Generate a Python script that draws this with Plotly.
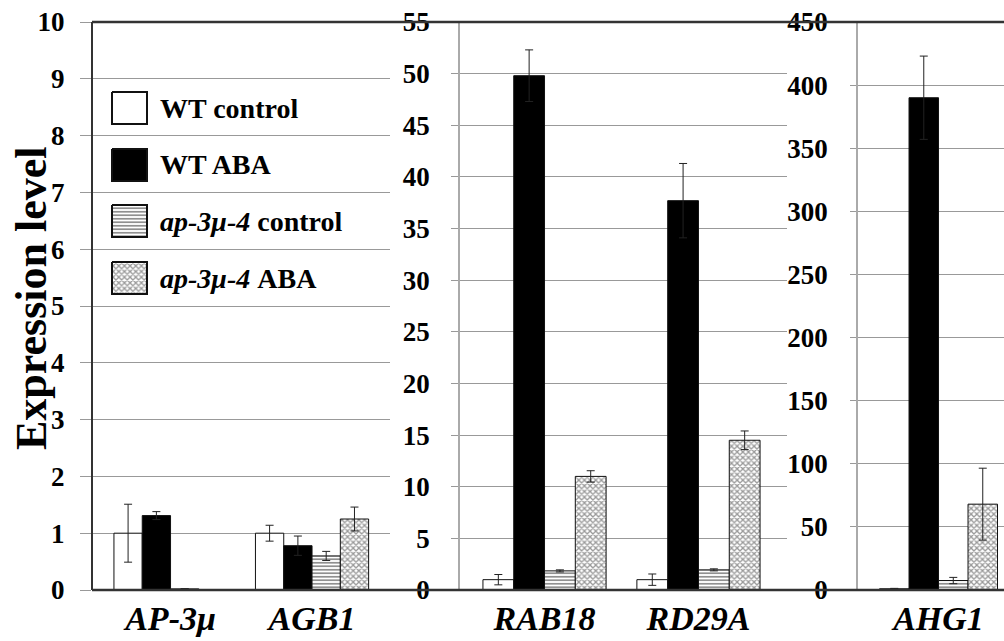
import plotly.graph_objects as go

# ---------------- data ----------------
genes_left = ["AP-3μ", "AGB1"]
genes_mid = ["RAB18", "RD29A"]
genes_right = ["AHG1"]

series_names = ["WT control", "WT ABA", "ap-3μ-4 control", "ap-3μ-4 ABA"]
legend_labels = ["<b>WT control</b>", "<b>WT ABA</b>",
                 "<b><i>ap-3μ-4</i> control</b>", "<b><i>ap-3μ-4</i> ABA</b>"]

wt_control = [1.00, 1.00, 1.00, 1.00, 1.0]
wt_control_err = [0.51, 0.14, 0.50, 0.55, 0.3]
wt_aba = [1.31, 0.78, 49.8, 37.7, 390]
wt_aba_err = [0.07, 0.17, 2.5, 3.6, 33]
mut_control = [0.02, 0.60, 1.85, 1.95, 7.5]
mut_control_err = [0.0, 0.08, 0.10, 0.10, 2.5]
mut_aba = [0.0, 1.25, 11.0, 14.5, 68]
mut_aba_err = [0.0, 0.21, 0.55, 0.90, 28.5]

y_ranges = [[0, 10], [0, 55], [0, 450]]
y_dticks = [1, 5, 50]
y_title = "Expression level"

# ---------------- styles ----------------
FONT = "Liberation Serif"
W, H = 1004, 641
styles = [
    dict(color="white", pattern=None),
    dict(color="black", pattern=None),
    dict(color="white", pattern=dict(shape="-", size=3.5, solidity=0.5, fgcolor="#222", bgcolor="white")),
    dict(color="white", pattern=dict(shape="x", size=4, solidity=0.55, fgcolor="#333", bgcolor="white")),
]
values = [wt_control, wt_aba, mut_control, mut_aba]
errors = [wt_control_err, wt_aba_err, mut_control_err, mut_aba_err]

def px_x(p):
    return p / W

def px_y(p):
    return (H - p) / H

y_bot, y_top = px_y(590), px_y(22)

panels = [
    dict(genes=genes_left, xdom=[px_x(93), px_x(390)], xr=[-0.548, 1.551], sl=slice(0, 2)),
    dict(genes=genes_mid, xdom=[px_x(460), px_x(787)], xr=[-0.549, 1.575], sl=slice(2, 4)),
    dict(genes=genes_right, xdom=[px_x(858), 1.0], xr=[-0.546, 0.444], sl=slice(4, 5)),
]

fig = go.Figure()

for pi, p in enumerate(panels):
    xa = "x" if pi == 0 else f"x{pi+1}"
    ya = "y" if pi == 0 else f"y{pi+1}"
    for si, name in enumerate(series_names):
        st = styles[si]
        marker = dict(color=st["color"], line=dict(color="#111", width=1))
        if st["pattern"]:
            marker["pattern"] = st["pattern"]
        fig.add_trace(go.Bar(
            x=p["genes"], y=values[si][p["sl"]], name=name,
            marker=marker, showlegend=False, offsetgroup=str(si),
            error_y=dict(type="data", array=errors[si][p["sl"]], color="#222",
                         thickness=1, width=4),
            xaxis=xa, yaxis=ya,
        ))

# --- manual legend swatches on an overlay axis in pixel units ---
leg_x0, leg_w, leg_h = 112, 35, 32
leg_centers = [108, 165, 221, 278]
for si, name in enumerate(series_names):
    st = styles[si]
    cy = leg_centers[si]
    xs = [leg_x0, leg_x0 + leg_w, leg_x0 + leg_w, leg_x0, leg_x0]
    ys = [cy - leg_h / 2, cy - leg_h / 2, cy + leg_h / 2, cy + leg_h / 2, cy - leg_h / 2]
    kw = dict(fill="toself", fillcolor=st["color"])
    if st["pattern"]:
        kw["fillpattern"] = st["pattern"]
    fig.add_trace(go.Scatter(x=xs, y=ys, mode="lines", line=dict(color="#111", width=2),
                             showlegend=False, hoverinfo="skip", xaxis="x4", yaxis="y4", **kw))
    fig.add_annotation(x=px_x(158), y=px_y(cy), xref="paper", yref="paper", xanchor="left",
                       yanchor="middle", text=legend_labels[si], showarrow=False,
                       font=dict(family=FONT, size=28, color="black"))

tickfont_y = dict(family=FONT, size=27, color="black", weight="bold")
tickfont_x = dict(family=FONT, size=34, color="black", weight="bold", style="italic")

layout = dict(
    width=W, height=H, margin=dict(l=0, r=0, t=0, b=0, autoexpand=False),
    paper_bgcolor="white", plot_bgcolor="rgba(0,0,0,0)",
    barmode="group", bargap=0.2, bargroupgap=0,
    showlegend=False,
    xaxis4=dict(domain=[0, 1], range=[0, W], visible=False, anchor="y4",
                fixedrange=True, automargin=False),
    yaxis4=dict(domain=[0, 1], range=[H, 0], visible=False, anchor="x4",
                fixedrange=True, automargin=False),
)
ystyles = [
    dict(linecolor="#333", linewidth=2, ticklen=11, ticklabelstandoff=10),
    dict(linecolor="#aaa", linewidth=1.5, ticklen=7, ticklabelstandoff=16),
    dict(linecolor="#aaa", linewidth=1.5, ticklen=6, ticklabelstandoff=17),
]
for pi, p in enumerate(panels):
    sx = "xaxis" if pi == 0 else f"xaxis{pi+1}"
    sy = "yaxis" if pi == 0 else f"yaxis{pi+1}"
    ax_x = "x" if pi == 0 else f"x{pi+1}"
    ax_y = "y" if pi == 0 else f"y{pi+1}"
    layout[sx] = dict(domain=p["xdom"], anchor=ax_y, type="category",
                      categoryorder="array", categoryarray=p["genes"],
                      range=p["xr"], showline=False, showgrid=False, ticks="",
                      tickfont=tickfont_x, ticklabelstandoff=5, zeroline=False,
                      automargin=False)
    ys = ystyles[pi]
    layout[sy] = dict(domain=[y_bot, y_top], anchor=ax_x, range=y_ranges[pi],
                      dtick=y_dticks[pi], tick0=0, showgrid=True, gridcolor="#999",
                      gridwidth=1, zeroline=False, showline=True,
                      linecolor=ys["linecolor"], linewidth=ys["linewidth"],
                      ticks="outside", ticklen=ys["ticklen"], tickcolor="#999",
                      tickwidth=1, tickfont=tickfont_y,
                      ticklabelstandoff=ys["ticklabelstandoff"], automargin=False)
fig.update_layout(**layout)

# frame lines (top and baseline) spanning the panels
for yy in (y_top, y_bot):
    fig.add_shape(type="line", xref="paper", yref="paper", x0=px_x(92), x1=1.0,
                  y0=yy, y1=yy, line=dict(color="#333", width=2.5))

fig.add_annotation(x=px_x(31), y=px_y(298), xref="paper", yref="paper",
                   xanchor="center", yanchor="middle",
                   text=f"<b>{y_title}</b>", textangle=-90, showarrow=False,
                   font=dict(family=FONT, size=44, color="black"))

fig.write_html("out.html")
